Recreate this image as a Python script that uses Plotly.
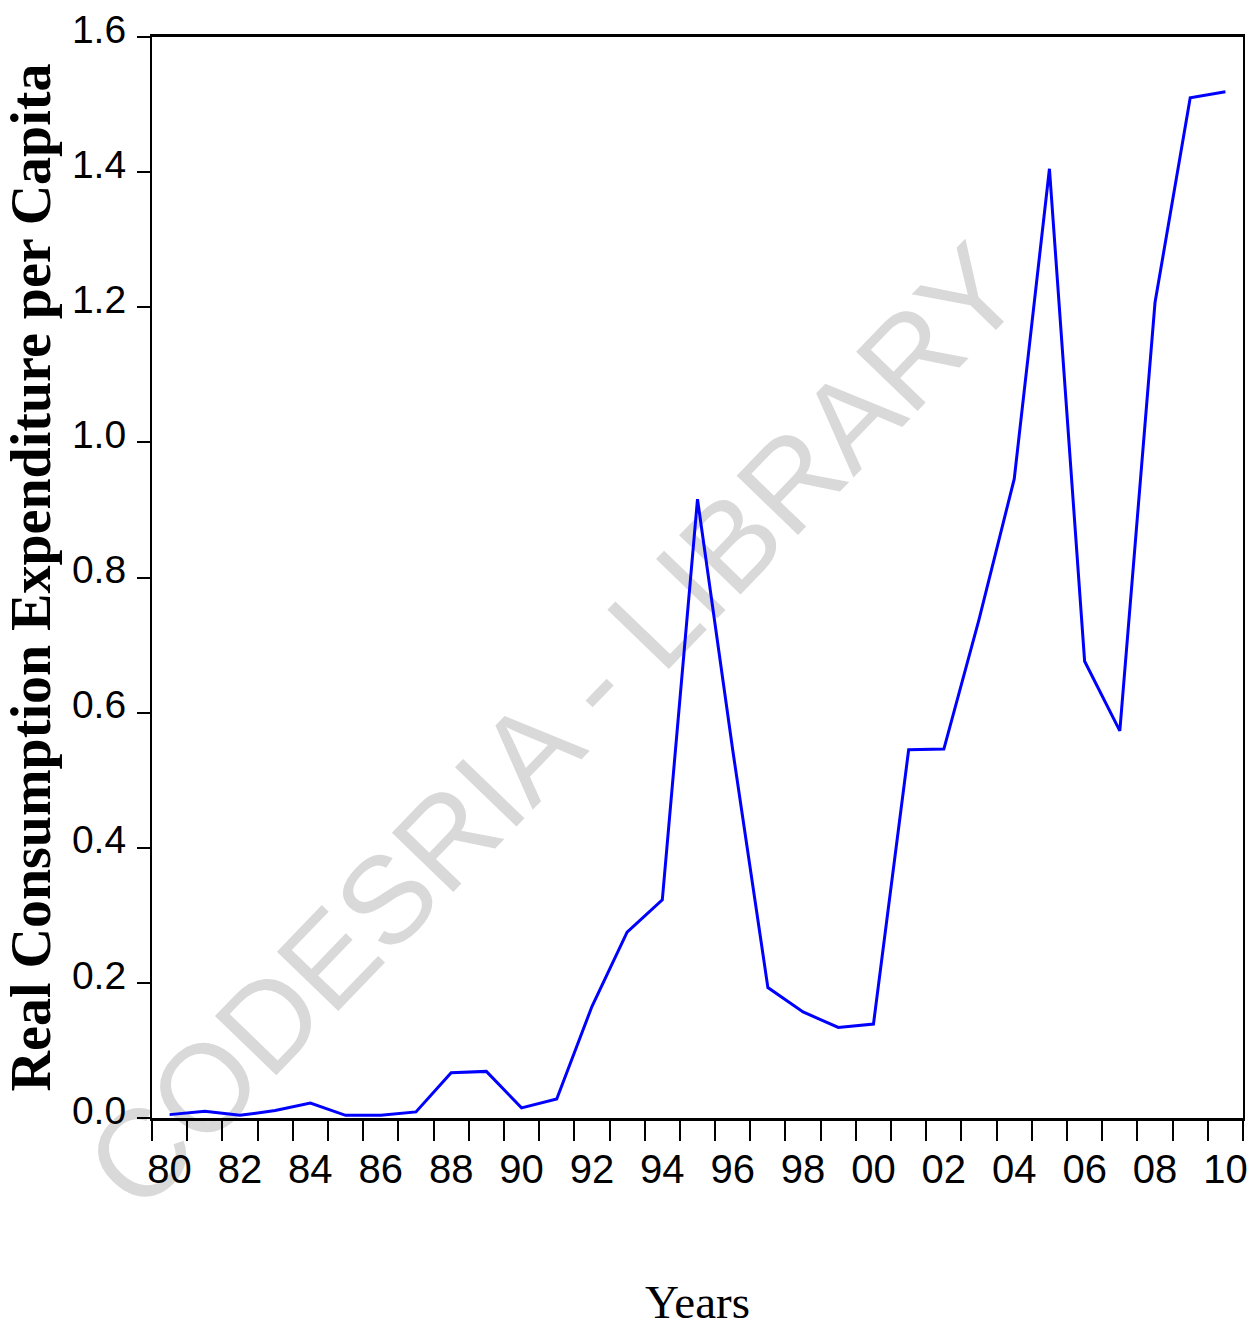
import plotly.graph_objects as go

years = list(range(1980, 2011))
consumption = [0.005, 0.010, 0.004, 0.011, 0.022, 0.004, 0.004, 0.009, 0.067, 0.069,
               0.015, 0.028, 0.165, 0.275, 0.323, 0.916, 0.545, 0.193, 0.157, 0.134,
               0.139, 0.545, 0.546, 0.738, 0.946, 1.405, 0.676, 0.573, 1.207, 1.510,
               1.519]
x_tick_years = list(range(1980, 2011, 2))
x_tick_text = ["80", "82", "84", "86", "88", "90", "92", "94", "96", "98",
               "00", "02", "04", "06", "08", "10"]
y_ticks = [0.0, 0.2, 0.4, 0.6, 0.8, 1.0, 1.2, 1.4, 1.6]
y_tick_text = ["0.0", "0.2", "0.4", "0.6", "0.8", "1.0", "1.2", "1.4", "1.6"]
period_bounds = [y - 0.5 for y in years] + [years[-1] + 0.5]

sans = "Liberation Sans Narrow, Arial Narrow, Liberation Sans, Arial, sans-serif"
serif = "Liberation Serif, Times New Roman, serif"

fig = go.Figure()
fig.add_trace(go.Scatter(
    x=years, y=consumption, mode="lines",
    line=dict(color="#0000ff", width=3),
    showlegend=False, hoverinfo="x+y",
))

fig.update_layout(
    width=1259, height=1332,
    margin=dict(l=152, r=16, t=37, b=214),
    paper_bgcolor="white",
    plot_bgcolor="rgba(0,0,0,0)",
    showlegend=False,
    xaxis=dict(
        range=[period_bounds[0], period_bounds[-1]],
        automargin=False,
        tickmode="array", tickvals=x_tick_years, ticktext=x_tick_text,
        ticks="", ticklabelstandoff=14,
        tickfont=dict(family=sans, size=40, color="black"),
        minor=dict(tickmode="array", tickvals=period_bounds, ticks="outside",
                   ticklen=20, tickwidth=1.6, tickcolor="black", showgrid=False),
        showline=True, linecolor="black", linewidth=3, mirror=True,
        showgrid=False, zeroline=False,
        title=dict(text="Years", font=dict(family=serif, size=47, color="black"),
                   standoff=96),
    ),
    yaxis=dict(
        range=[0, 1.6],
        automargin=False,
        tickmode="array", tickvals=y_ticks, ticktext=y_tick_text,
        ticks="outside", ticklen=13, tickwidth=1.6, tickcolor="black",
        ticklabelstandoff=3, ticklabelshift=-8,
        tickfont=dict(family=sans, size=39, color="black"),
        showline=True, linecolor="black", linewidth=2.2, mirror=True,
        showgrid=False, zeroline=False,
        title=dict(text="<b>Real Consumption Expenditure per Capita</b>",
                   font=dict(family=serif, size=56, color="black"),
                   standoff=18),
    ),
    shapes=[dict(
        type="line", xref="paper", yref="paper", layer="below",
        x0=0.35, x1=0.37, y0=0.37, y1=0.37,
        line=dict(color="rgba(0,0,0,0)", width=0),
        label=dict(text="CODESRIA - LIBRARY", textangle=-46,
                   textposition="middle", xanchor="center", yanchor="middle",
                   font=dict(family="Liberation Sans, Arial, sans-serif",
                             size=124, color="#d9d9d9")),
    )],
)

fig.write_html("out.html")
